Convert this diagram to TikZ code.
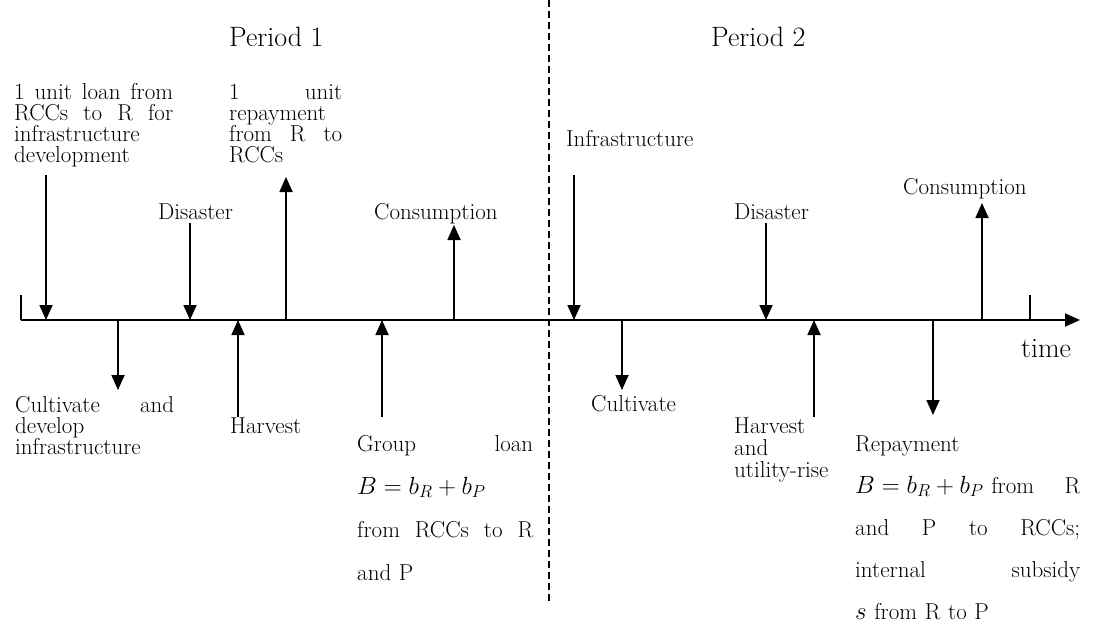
\documentclass[tikz,border=0pt]{standalone}
\usetikzlibrary{arrows.meta}
\tikzset{
  txt/.style={font=\fontsize{23}{21}\selectfont, inner sep=0pt, anchor=base west},
  big/.style={font=\fontsize{28}{34}\selectfont, inner sep=0pt, anchor=base west},
  evt/.style={line width=1.8pt, -{Triangle[width=13pt,length=15pt]}},
}
% a line spread over the whole text width (\hfill between the words)
\newcommand{\jline}[1]{\makebox[\hsize][s]{#1}}
\newcommand{\eqB}{\mbox{\fontsize{26}{42}\selectfont$B=b_R+b_P$}}
\begin{document}
\begin{tikzpicture}[x=1pt,y=-1pt]
  \useasboundingbox (0,0) rectangle (1093,629);
  % time axis
  \coordinate (o) at (21,320);
  \coordinate (end) at (1080,320);
  \coordinate (t0) at (21,295);
  \coordinate (t1) at (1030,295);
  \draw[line width=1.8pt] (t0) -- (o);
  \draw[evt] (o) -- (end);
  \draw[line width=1.8pt] (t1) -- (t1 |- o);
  \draw[line width=1.3pt, dash pattern=on 7pt off 4pt] (549,0) -- (549,603);
  \node[big] (p1) at (229,46) {Period 1};
  \node[big] (p2) at (711,46) {Period 2};
  \node[big] (time) at (1021,357) {time};
  % events above the axis
  \coordinate (loan) at (46,175);
  \coordinate (dis1) at (190,223);
  \coordinate (rep1) at (286,177);
  \coordinate (con1) at (454,225);
  \coordinate (inf) at (574,175);
  \coordinate (dis2) at (766,223);
  \coordinate (con2) at (982,203);
  \draw[evt] (loan) -- (loan |- o);
  \draw[evt] (dis1) -- (dis1 |- o);
  \draw[evt] (rep1 |- o) -- (rep1);
  \draw[evt] (con1 |- o) -- (con1);
  \draw[evt] (inf) -- (inf |- o);
  \draw[evt] (dis2) -- (dis2 |- o);
  \draw[evt] (con2 |- o) -- (con2);
  \node[txt, text width=159pt] (loantxt) at (14,99) {\jline{1\hfill unit\hfill loan\hfill from}\\ \jline{RCCs\hfill to\hfill R\hfill for}\\ infrastructure\\ development};
  \node[txt] (dis1txt) at (158,219) {Disaster};
  \node[txt, text width=113pt] (rep1txt) at (229,99) {\jline{1\hfill unit}\\ repayment\\ \jline{from\hfill R\hfill to}\\ RCCs};
  \node[txt] (con1txt) at (374,219) {Consumption};
  \node[txt] (inftxt) at (566,146) {Infrastructure};
  \node[txt] (dis2txt) at (734,219) {Disaster};
  \node[txt] (con2txt) at (903,194) {Consumption};
  % events below the axis
  \coordinate (cul1) at (118,390);
  \coordinate (har1) at (238,417);
  \coordinate (gl) at (382,417);
  \coordinate (cul2) at (622,390);
  \coordinate (har2) at (814,417);
  \coordinate (rep2) at (933,415);
  \draw[evt] (cul1 |- o) -- (cul1);
  \draw[evt] (har1) -- (har1 |- o);
  \draw[evt] (gl) -- (gl |- o);
  \draw[evt] (cul2 |- o) -- (cul2);
  \draw[evt] (har2) -- (har2 |- o);
  \draw[evt] (rep2 |- o) -- (rep2);
  \node[txt, text width=159pt] (cul1txt) at (15,412) {\jline{Cultivate\hfill and}\\ develop\\ infrastructure};
  \node[txt] (har1txt) at (230,433) {Harvest};
  \node[txt, text width=176pt, font=\fontsize{23}{43}\selectfont] (gltxt) at (357,451) {\jline{Group\hfill loan}\\ \eqB\\ \jline{from\hfill RCCs\hfill to\hfill R}\\ and P};
  \node[txt] (cul2txt) at (591,411) {Cultivate};
  \node[txt, text width=110pt, font=\fontsize{23}{22}\selectfont] (har2txt) at (734,433) {Harvest\\ and\\ utility-rise};
  \node[txt, text width=225pt, font=\fontsize{23}{42}\selectfont] (rep2txt) at (855,451) {Repayment\\ \jline{\eqB\ from\hfill R}\\ \jline{and\hfill P\hfill to\hfill RCCs;}\\ \jline{internal\hfill subsidy}\\ \mbox{\fontsize{26}{42}\selectfont$s$} from R to P};
\end{tikzpicture}
\end{document}
